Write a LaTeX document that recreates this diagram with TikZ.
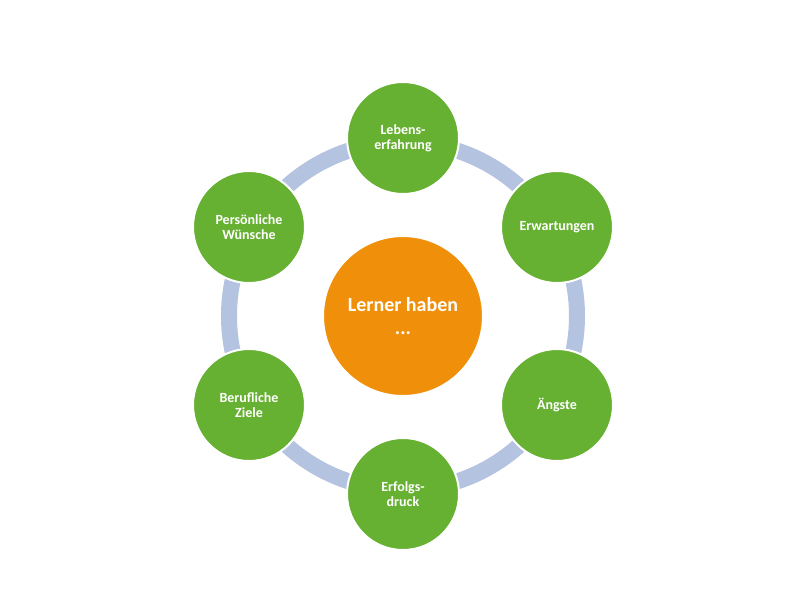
\documentclass[tikz,border=0pt]{standalone}
\usepackage{fontspec}
\setmainfont{Carlito}
\usepackage{tikz}
\usepackage{xcolor}
\definecolor{vertBulle}{HTML}{66B032}
\definecolor{orangeCentre}{HTML}{F0900A}
\definecolor{bleuAnneau}{HTML}{B4C3DF}
\tikzset{
Bulle/.style={
 circle,
 fill=vertBulle,
 draw=white,
 line width=1.5pt,
 minimum size=84pt,
 inner sep=0pt,
 align=center,
 text=white,
 font=\fontsize{10.5}{11.5}\selectfont\bfseries
 },
Centre/.style={
 circle,
 fill=orangeCentre,
 draw=white,
 line width=1.5pt,
 minimum size=120pt,
 inner sep=0pt,
 align=center,
 text=white,
 font=\fontsize{15}{17}\selectfont\bfseries
 },
Anneau/.style={
 draw=bleuAnneau,
 line width=12pt
 }
}
\begin{document}
\begin{tikzpicture}[x=0.75pt,y=-0.75pt]
\useasboundingbox (0,0) rectangle (800,600);
\coordinate (M) at (403,316);
\draw[Anneau] (M) circle (130.5pt);
\node[Centre] (lerner) at (M) {Lerner haben\\...};
\node[Bulle] (leben) at (403,138) {Lebens-\\erfahrung};
\node[Bulle] (erwart) at (557,227) {Erwartungen};
\node[Bulle] (angst) at (557,405) {Ängste};
\node[Bulle] (erfolg) at (403,494) {Erfolgs-\\druck};
\node[Bulle] (beruf) at (249,405) {Berufliche\\Ziele};
\node[Bulle] (wunsch) at (249,227) {Persönliche\\Wünsche};
\end{tikzpicture}
\end{document}
